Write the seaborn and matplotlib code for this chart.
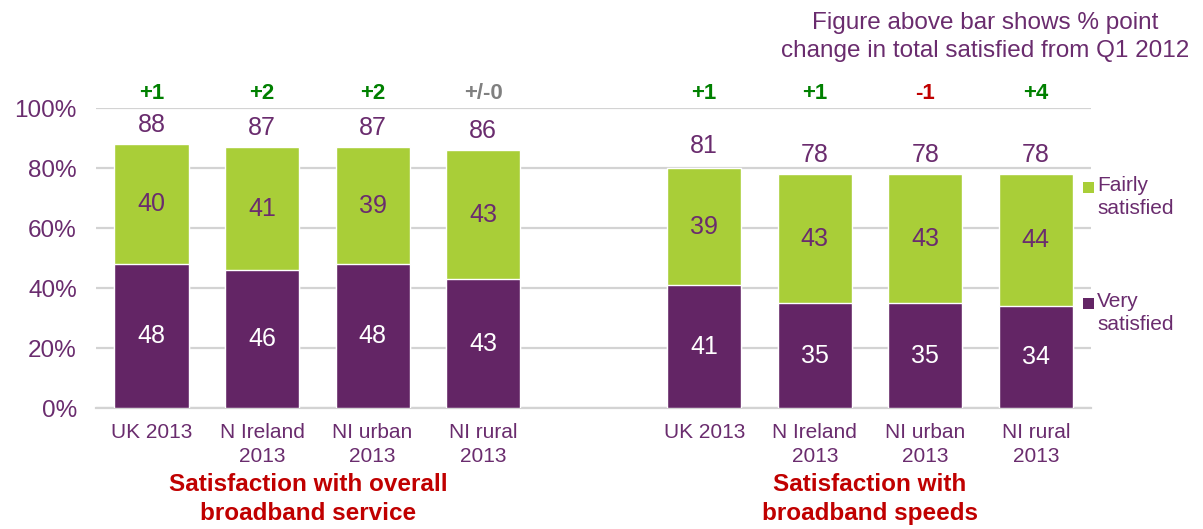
import pandas as pd
import matplotlib.pyplot as plt
import seaborn as sns
from matplotlib.patches import Rectangle
from matplotlib.transforms import blended_transform_factory

# slot 4 is the empty gap between the two groups
slots = [0, 1, 2, 3, 5, 6, 7, 8]
labels = ["UK 2013", "N Ireland\n2013", "NI urban\n2013", "NI rural\n2013",
          "UK 2013", "N Ireland\n2013", "NI urban\n2013", "NI rural\n2013"]
very = [48, 46, 48, 43, 41, 35, 35, 34]
fairly = [40, 41, 39, 43, 39, 43, 43, 44]
totals = [88, 87, 87, 86, 81, 78, 78, 78]
changes = ["+1", "+2", "+2", "+/-0", "+1", "+1", "-1", "+4"]
group_titles = ["Satisfaction with overall\nbroadband service",
                "Satisfaction with\nbroadband speeds"]

PURPLE = "#632565"
GREEN = "#A9CE38"
TEXT = "#6A2C6E"
GRID = "#D3D3D3"

def change_colour(c):
    if c.startswith("+/-"):
        return "#808080"
    if c.startswith("-"):
        return "#C00000"
    return "#008000"

df = pd.DataFrame({"slot": slots, "very": very, "fairly": fairly})
df["stack"] = df["very"] + df["fairly"]

sns.set_style("white")
plt.rcParams["font.family"] = ["Liberation Sans", "DejaVu Sans"]

fig = plt.figure(figsize=(12.03, 5.29), dpi=100)
ax = fig.add_axes([0.080, 0.2287, 0.827, 0.5671])

sns.barplot(data=df, x="slot", y="stack", color=GREEN, width=0.67,
            native_scale=True, saturation=1, ax=ax, zorder=2)
sns.barplot(data=df, x="slot", y="very", color=PURPLE, width=0.67,
            native_scale=True, saturation=1, ax=ax, zorder=3)

ax.set_xlim(-0.5, 8.5)
ax.set_ylim(0, 100)
ax.set_yticks(range(0, 101, 20))
ax.set_yticklabels([f"{v}%" for v in range(0, 101, 20)], fontsize=17.5, color=TEXT)
ax.yaxis.grid(True, color=GRID, linewidth=1.6, zorder=0)
ax.set_axisbelow(True)
ax.tick_params(axis="y", length=0, pad=14)

ax.set_xticks(slots)
ax.set_xticklabels(labels, fontsize=15, color=TEXT, linespacing=1.3)
ax.set_xticks([s - 0.5 for s in range(10)], minor=True)
ax.tick_params(axis="x", which="major", length=0, pad=11)
ax.tick_params(axis="x", which="minor", length=6, width=1.6, color=GRID)
ax.set_xlabel("")
ax.set_ylabel("")

for side in ["top", "right", "left"]:
    ax.spines[side].set_visible(False)
ax.spines["bottom"].set_color(GRID)
ax.spines["bottom"].set_linewidth(1.6)

for s, v, f, t, c in zip(slots, very, fairly, totals, changes):
    ax.text(s, v / 2, str(v), ha="center", va="center", fontsize=18, color="white", zorder=5)
    ax.text(s, v + f / 2, str(f), ha="center", va="center", fontsize=18, color=TEXT, zorder=5)
    ax.text(s, t + 6.5, str(t), ha="center", va="center", fontsize=18, color=TEXT, zorder=5)
    ax.text(s, 105, c, ha="center", va="center", fontsize=16, fontweight="bold",
            color=change_colour(c), clip_on=False)

trans = blended_transform_factory(ax.transData, fig.transFigure)
for x, title in zip([1.42, 6.5], group_titles):
    ax.text(x, 1 - 499 / 529, title, transform=trans, ha="center", va="center",
            fontsize=17.5, fontweight="bold", color="#C00000", linespacing=1.3)

fig.text(985 / 1203, 1 - 37 / 529, "Figure above bar shows % point\nchange in total satisfied from Q1 2012",
         ha="center", va="center", fontsize=17.5, color=TEXT, multialignment="center",
         linespacing=1.3)

# legend, top entry first
for name, colour, ytop in [("Fairly\nsatisfied", GREEN, 1 - 182 / 529),
                           ("Very\nsatisfied", PURPLE, 1 - 298 / 529)]:
    fig.patches.append(Rectangle((1083 / 1203, ytop - 11 / 529), 11 / 1203, 11 / 529,
                                 transform=fig.transFigure, facecolor=colour,
                                 edgecolor="none"))
    fig.text(1097 / 1203, ytop + 6 / 529, name, ha="left", va="top", fontsize=15,
             color=TEXT, linespacing=1.3)

fig.savefig("out.png", dpi=100)
plt.close(fig)
